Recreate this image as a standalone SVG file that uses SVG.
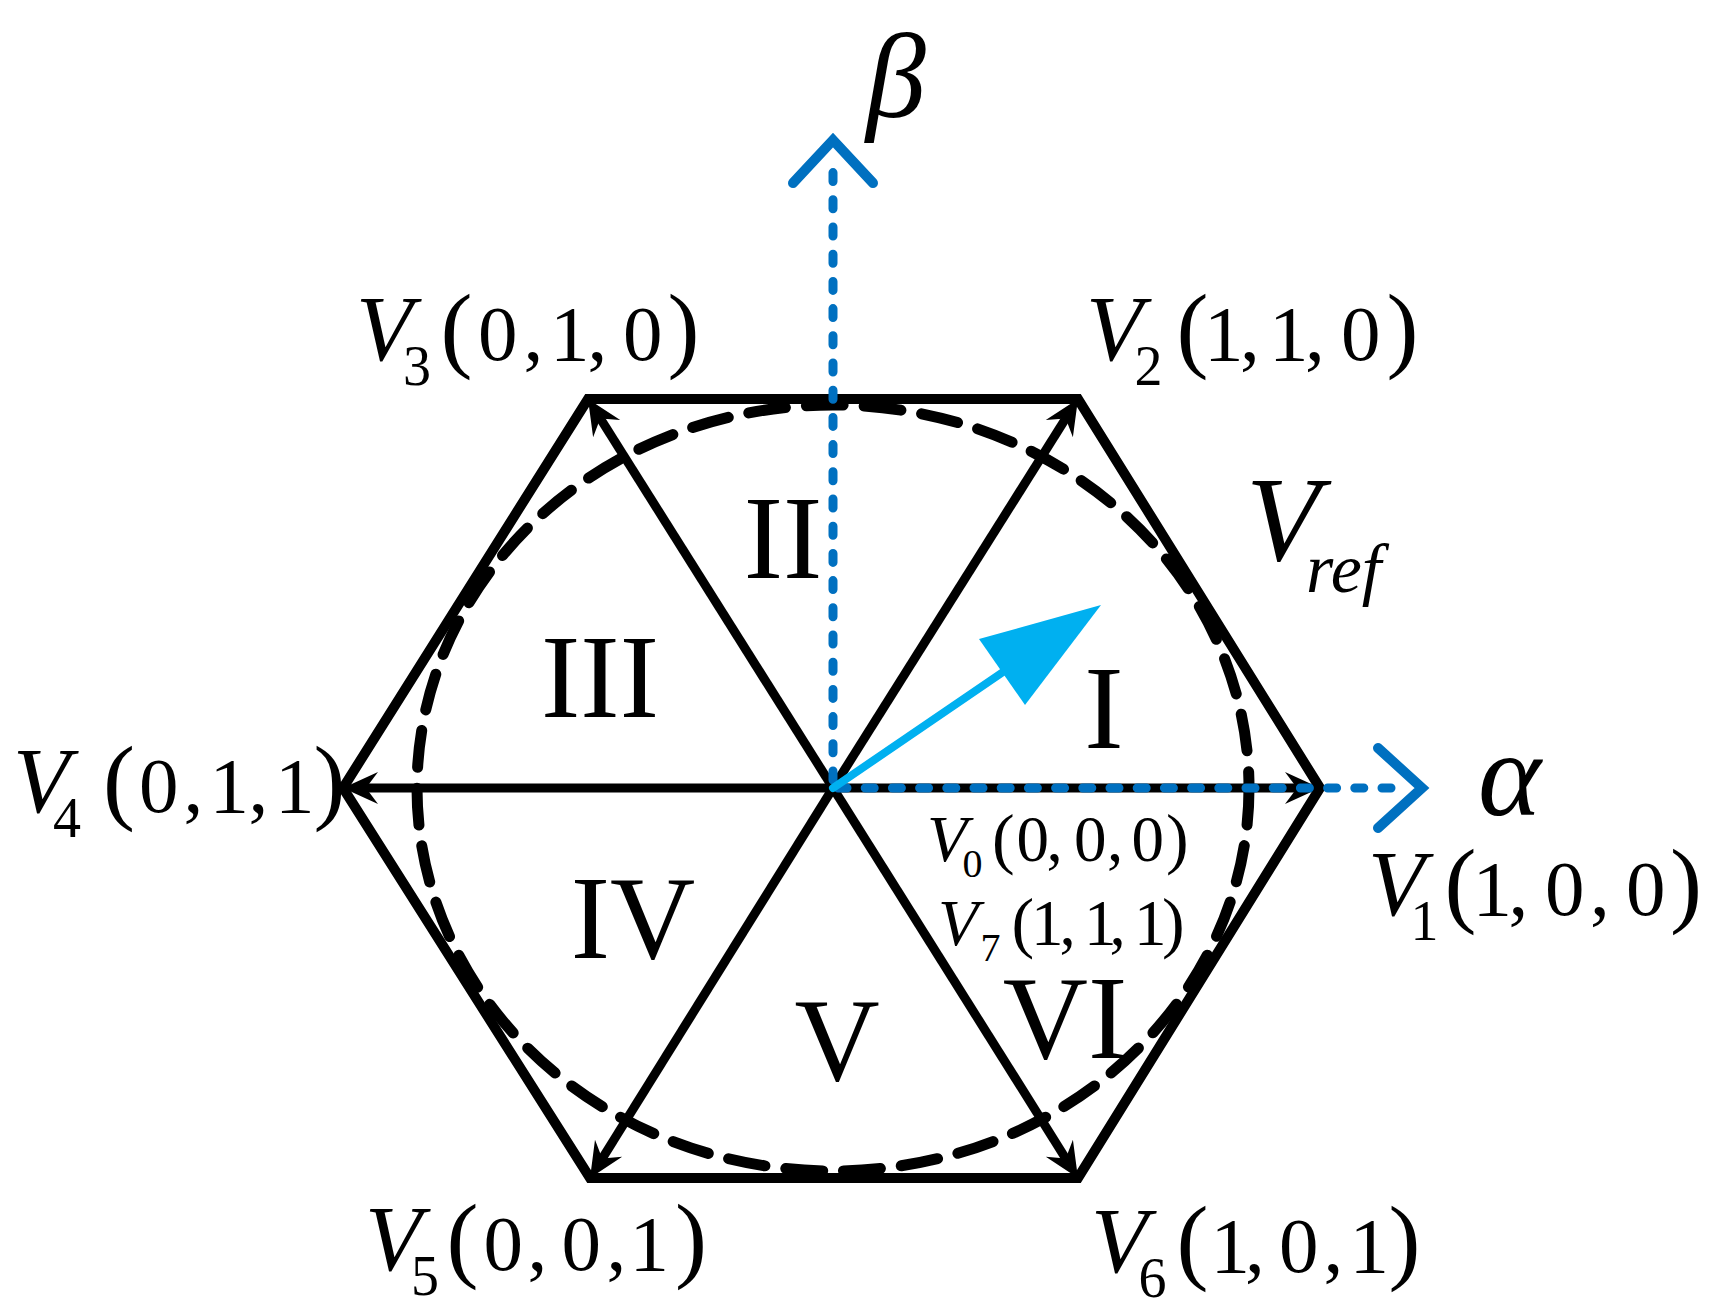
<svg xmlns="http://www.w3.org/2000/svg" width="1717" height="1314" viewBox="0 0 1717 1314">
<style>
text { font-family: "Liberation Serif", "Times New Roman", "DejaVu Serif", serif; fill: #000; }
.it { font-style: italic; }
.roman { font-size: 118px; text-anchor: middle; }
.vec { stroke: #000; stroke-width: 9; fill: none; marker-end: url(#stealth); }
.axis { stroke: #0070C0; stroke-width: 9; stroke-linecap: round; stroke-dasharray: 9 18.2; fill: none; }
.chev { stroke: #0070C0; stroke-width: 10; stroke-linecap: round; stroke-linejoin: miter; fill: none; }
.big .v { font-size: 93px; }
.big .s { font-size: 56px; }
.big .p { font-size: 96px; }
.big .d { font-size: 79px; }
.small .v { font-size: 66px; }
.small .s { font-size: 40px; }
.small .p { font-size: 68px; }
.small .d { font-size: 65px; }
</style>
<defs>
<marker id="stealth" markerUnits="userSpaceOnUse" viewBox="-22 -18 40 36" refX="0" refY="0" markerWidth="40" markerHeight="36" orient="auto">
<path d="M15,0 L-20,-16 L-8,0 L-20,16 Z" fill="#000"/>
</marker>
</defs>
<rect width="1717" height="1314" fill="#fff"/>

<g id="hexagon">
<polygon points="1320,788 1078,399 588,399 343,788 590,1178 1078,1178" fill="none" stroke="#000" stroke-width="10" stroke-linejoin="miter"/>
</g>

<g id="connectors">
<line class="vec" x1="833" y1="788" x2="1305" y2="788"/>
<line class="vec" x1="833" y1="788" x2="1070" y2="411.7"/>
<line class="vec" x1="833" y1="788" x2="596" y2="411.7"/>
<line class="vec" x1="833" y1="788" x2="358" y2="788"/>
<line class="vec" x1="833" y1="788" x2="598" y2="1165.3"/>
<line class="vec" x1="833" y1="788" x2="1070" y2="1165.3"/>
</g>

<g id="limit-circle">
<ellipse cx="833" cy="788" rx="416" ry="383" fill="none" stroke="#000" stroke-width="11" stroke-linecap="round" stroke-dasharray="37 21"/>
</g>

<g id="alpha-axis">
<line class="axis" x1="838" y1="788" x2="1400" y2="788"/>
<polyline class="chev" points="1378,748 1422,788 1378,828"/>
</g>
<g id="beta-axis">
<line class="axis" x1="833" y1="780" x2="833" y2="160"/>
<polyline class="chev" points="793,183 833,140 873,183"/>
</g>

<g id="vref-arrow">
<line x1="833" y1="788" x2="1003" y2="672" stroke="#00B0F0" stroke-width="8" stroke-linecap="round"/>
<polygon points="1101,605 979,639 1025,705" fill="#00B0F0"/>
</g>

<g id="sectors">
<text class="roman" x="1104" y="748">I</text>
<text class="roman" x="783" y="578">II</text>
<text class="roman" x="600" y="717">III</text>
<text class="roman" x="633" y="958">IV</text>
<text class="roman" x="837" y="1080">V</text>
<text class="roman" x="1065" y="1058">VI</text>
</g>

<g id="label-v3" class="big">
<text y="360"><tspan class="v it" x="356">V</tspan><tspan class="s" x="403" y="385">3</tspan><tspan class="p" x="440.5" y="360">(</tspan><tspan class="d" x="478 523.5 550 587.5 623">0,1,0</tspan><tspan class="p" x="667.5">)</tspan></text>
</g>
<g id="label-v2" class="big">
<text y="360"><tspan class="v it" x="1086">V</tspan><tspan class="s" x="1134.5" y="385">2</tspan><tspan class="p" x="1176.5" y="360">(</tspan><tspan class="d" x="1204 1240 1269 1305 1341">1,1,0</tspan><tspan class="p" x="1386.5">)</tspan></text>
</g>
<g id="label-v4" class="big">
<text y="812"><tspan class="v it" x="13">V</tspan><tspan class="s" x="53" y="837">4</tspan><tspan class="p" x="103" y="812">(</tspan><tspan class="d" x="139 183.5 209.5 248.5 275">0,1,1</tspan><tspan class="p" x="313.5">)</tspan></text>
</g>
<g id="label-v5" class="big">
<text y="1270"><tspan class="v it" x="365">V</tspan><tspan class="s" x="411" y="1295">5</tspan><tspan class="p" x="446.5" y="1270">(</tspan><tspan class="d" x="483.5 527.5 561.5 606.5 629.5">0,0,1</tspan><tspan class="p" x="675">)</tspan></text>
</g>
<g id="label-v6" class="big">
<text y="1272"><tspan class="v it" x="1091">V</tspan><tspan class="s" x="1138.5" y="1297">6</tspan><tspan class="p" x="1176.5" y="1272">(</tspan><tspan class="d" x="1210.5 1245 1279 1323.5 1349.5">1,0,1</tspan><tspan class="p" x="1388.5">)</tspan></text>
</g>
<g id="label-v1" class="big">
<text y="915"><tspan class="v it" x="1368">V</tspan><tspan class="s" x="1410.5" y="940">1</tspan><tspan class="p" x="1444.5" y="915">(</tspan><tspan class="d" x="1472.5 1508.5 1545 1590 1626">1,0,0</tspan><tspan class="p" x="1670">)</tspan></text>
</g>
<g id="label-v0" class="small">
<text y="861"><tspan class="v it" x="927">V</tspan><tspan class="s" x="962.5" y="877">0</tspan><tspan class="p" x="992" y="861">(</tspan><tspan class="d" x="1016.5 1046.5 1074 1107 1131.5">0,0,0</tspan><tspan class="p" x="1166">)</tspan></text>
</g>
<g id="label-v7" class="small">
<text y="945"><tspan class="v it" x="938">V</tspan><tspan class="s" x="980.6" y="961">7</tspan><tspan class="p" x="1011.5" y="945">(</tspan><tspan class="d" x="1031 1059.5 1084 1109.5 1134">1,1,1</tspan><tspan class="p" x="1162">)</tspan></text>
</g>
<g id="label-vref">
<text y="560"><tspan class="it" x="1246" font-size="121">V</tspan><tspan class="it" x="1306" y="592" font-size="70">ref</tspan></text>
</g>
<g id="label-alpha">
<text class="it" x="1478" y="815" font-size="120">α</text>
</g>
<g id="label-beta">
<text class="it" x="866" y="117" font-size="120">β</text>
</g>
</svg>
